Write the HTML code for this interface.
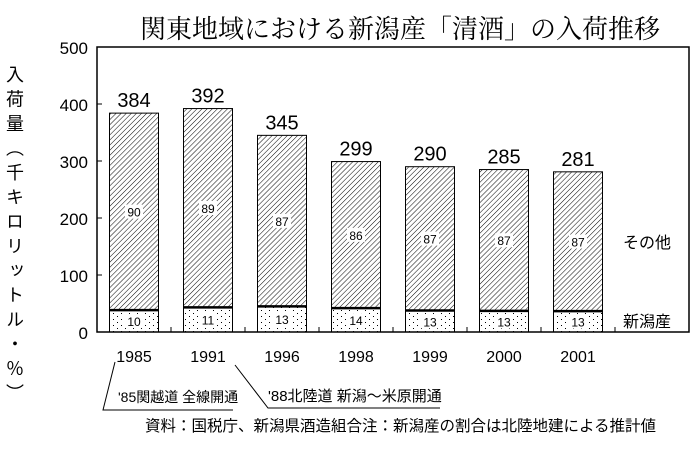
<!DOCTYPE html>
<html><head><meta charset="utf-8"><style>
body{margin:0;background:#fff;}
svg{display:block;font-family:"Liberation Sans","Noto Sans CJK JP",sans-serif;}
</style></head><body>
<svg width="700" height="450" viewBox="0 0 700 450">
<defs>
<pattern id="hatch" width="3.6" height="3.6" patternUnits="userSpaceOnUse" patternTransform="rotate(45)">
<line x1="0" y1="0" x2="0" y2="3.6" stroke="#000" stroke-width="1"/>
</pattern>
<pattern id="dots" width="8" height="6" patternUnits="userSpaceOnUse">
<rect x="1" y="1" width="1" height="1" fill="#000"/><rect x="5" y="4" width="1" height="1" fill="#000"/>
</pattern>
</defs>
<text x="400" y="38" font-size="26" text-anchor="middle" font-family="'Noto Serif CJK SC','Noto Sans CJK JP',serif">関東地域における新潟産「清酒」の入荷推移</text>
<text x="14" y="65" font-size="18" style="writing-mode:vertical-rl;letter-spacing:6.5px">入荷量（千キロリットル・％）</text>
<rect x="97" y="47" width="592" height="285" fill="none" stroke="#000" stroke-width="1.5"/>
<g id="yaxis"></g>
<g id="bars"></g>
<text x="623" y="248" font-size="16">その他</text>
<text x="623" y="327" font-size="16">新潟産</text>
<g>
<polyline points="115,362 103,410 233,410" fill="none" stroke="#000"/>
<text x="118" y="402" font-size="14">'85関越道 全線開通</text>
</g>
<g>
<polyline points="235,365 268,408 440,408" fill="none" stroke="#000"/>
<text x="268" y="401" font-size="15">'88北陸道 新潟〜米原開通</text>
</g>
<text x="145" y="431" font-size="15.5">資料：国税庁、新潟県酒造組合注：新潟産の割合は北陸地建による推計値</text>
</svg>
<script>
const categories=["1985","1991","1996","1998","1999","2000","2001"];
const totals=[384,392,345,299,290,285,281];
const niigataPct=[10,11,13,14,13,13,13];
const otherPct=[90,89,87,86,87,87,87];
const yTicks=[0,100,200,300,400,500];
const NS="http://www.w3.org/2000/svg";
const x0=97,slot=74,y0=332,ppu=0.57,bw=49;
const y=v=>y0-v*ppu;
const cx=i=>x0+slot*(i+0.5);
function mk(tag,attrs,parent,txt){const e=document.createElementNS(NS,tag);for(const k in attrs)e.setAttribute(k,attrs[k]);if(txt!==undefined)e.textContent=txt;parent.appendChild(e);return e;}
const ya=document.getElementById('yaxis');
yTicks.forEach(t=>{
const tx=mk('text',{x:88,y:y(t)+7,'font-size':17,'text-anchor':'end'},ya,t);


if(t>0&&t<500){const l=mk('line',{x1:97,x2:102,y1:y(t),y2:y(t),stroke:'#000'},ya);

}
});
for(let k=1;k<8;k++){mk('line',{x1:x0+slot*k,x2:x0+slot*k,y1:y0,y2:y0-5,stroke:'#000'},ya);}
const g=document.getElementById('bars');
categories.forEach((c,i)=>{
const tot=totals[i],nv=tot*niigataPct[i]/100;
const bx=cx(i)-bw/2;
const r1=mk('rect',{x:bx,y:y(tot),width:bw,height:(tot-nv)*ppu,fill:'url(#hatch)',stroke:'#000'},g);


const r2=mk('rect',{x:bx,y:y(nv),width:bw,height:nv*ppu,fill:'url(#dots)',stroke:'#000'},g);


mk('line',{x1:bx,x2:bx+bw,y1:y(nv),y2:y(nv),stroke:'#000','stroke-width':2.5},g);
const ym=y((tot+nv)/2);
mk('rect',{x:cx(i)-9,y:ym-7,width:18,height:14,fill:'#fff'},g);
const t1=mk('text',{x:cx(i),y:ym+5,'font-size':12,'text-anchor':'middle'},g,otherPct[i]);


const yn=y(nv/2);
mk('rect',{x:cx(i)-9,y:yn-7,width:18,height:14,fill:'#fff'},g);
const t2=mk('text',{x:cx(i),y:yn+5,'font-size':12,'text-anchor':'middle'},g,niigataPct[i]);


const tv=mk('text',{x:cx(i),y:y(tot)-6,'font-size':20,'text-anchor':'middle'},g,tot);


const xl=mk('text',{x:cx(i),y:362,'font-size':16,'text-anchor':'middle'},g,c);


});
</script>
</body></html>
